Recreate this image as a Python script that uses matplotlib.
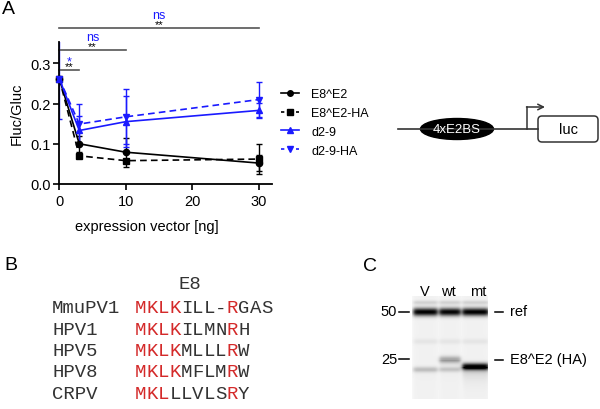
import numpy as np
import matplotlib.pyplot as plt
from matplotlib.patches import Ellipse, FancyBboxPatch
from matplotlib.lines import Line2D

plt.rcParams['font.family'] = ['Liberation Sans', 'DejaVu Sans']

W, H = 600, 410
BLUE = '#1a1aff'
RED = '#d42a2a'

# ---- panel A: Fluc/Gluc vs expression vector ----
doses = [0, 3, 10, 30]
names = ['E8^E2', 'E8^E2-HA', 'd2-9', 'd2-9-HA']
e8e2 = [0.262, 0.100, 0.079, 0.052]
e8e2_err = [0.0, 0.020, 0.036, 0.019]
e8e2_ha = [0.262, 0.070, 0.058, 0.062]
e8e2_ha_err = [0.0, 0.005, 0.003, 0.038]
d29 = [0.262, 0.133, 0.155, 0.183]
d29_err = [0.100, 0.035, 0.063, 0.019]
d29_ha = [0.262, 0.149, 0.167, 0.210]
d29_ha_err = [0.0, 0.050, 0.068, 0.044]

# significance bars: end dose, blue label (d2-9), black label (E8^E2)
sig_end = [3, 10, 30]
sig_y = [0.284, 0.334, 0.388]
sig_blue = ['*', 'ns', 'ns']
sig_black = ['**', '**', '**']

# ---- panel B: E8 alignment ----
strains = ['MmuPV1', 'HPV1', 'HPV5', 'HPV8', 'CRPV']
seqs = ['MKLKILL-RGAS', 'MKLKILMNRH', 'MKLKMLLLRW', 'MKLKMFLMRW', 'MKLLLVLSRY']
red_pos = [[0, 1, 2, 3, 8], [0, 1, 2, 3, 8], [0, 1, 2, 3, 8],
           [0, 1, 2, 3, 8], [0, 1, 2, 8]]

# ---- panel C: western blot ----
lanes = ['V', 'wt', 'mt']
mw_labels = ['50', '25']
ref_int = [0.95, 0.93, 0.95]
ha_int = [0.06, 0.30, 0.97]
ha_pos = [73, 63, 70]      # band row inside blot image
faint_int = [0.14, 0.16, 0.0]


def fx(x):
    return x / W


def fy(y):
    return 1 - y / H


fig = plt.figure(figsize=(6, 4.1), dpi=100)

# overlay in pixel coordinates for annotations / schematics
ov = fig.add_axes([0, 0, 1, 1])
ov.set_xlim(0, W)
ov.set_ylim(H, 0)
ov.axis('off')

ax = fig.add_axes([fx(59.3), fy(185), fx(271.7) - fx(59.3), fy(43) - fy(185)])
series = [(e8e2, e8e2_err, 'black', '-', 'o'),
          (e8e2_ha, e8e2_ha_err, 'black', '--', 's'),
          (d29, d29_err, BLUE, '-', '^'),
          (d29_ha, d29_ha_err, BLUE, '--', 'v')]
handles = []
for (vals, err, c, ls, m), name in zip(series, names):
    ax.errorbar(doses, vals, yerr=err, fmt='none', ecolor=c, elinewidth=1,
                capsize=2.5, capthick=1)
    ax.plot(doses, vals, color=c, ls=ls, marker=m, ms=4.5, lw=1.2,
            dashes=(4, 2.5) if ls == '--' else (None, None),
            clip_on=False, zorder=4)
    handles.append(Line2D([], [], color=c, ls=ls, marker=m, ms=4, lw=1.2,
                          dashes=(2, 2.5) if ls == '--' else (None, None)))

ax.set_xlim(0, 31.9)
ax.set_ylim(0, 0.353)
ax.set_xticks([0, 10, 20, 30])
ax.set_yticks([0.0, 0.1, 0.2, 0.3])
ax.yaxis.set_major_formatter(plt.FormatStrFormatter('%.1f'))
for s in ['top', 'right']:
    ax.spines[s].set_visible(False)
for s in ['left', 'bottom']:
    ax.spines[s].set_linewidth(1.3)
ax.tick_params(direction='out', length=4.5, width=1.2, labelsize=10.5)
ax.tick_params(axis='y', pad=1.5)
ax.tick_params(axis='x', pad=3)
ax.set_xlabel('expression vector [ng]', fontsize=10.5, va='center')
ax.xaxis.set_label_coords((147 - 59.3) / 212.4, -(227 - 185) / 142)
ax.set_ylabel('Fluc/Gluc', fontsize=10.5, va='center')
ax.yaxis.set_label_coords(-(59.3 - 17) / 212.4, 0.5)

for x1, y, tb, tk in zip(sig_end, sig_y, sig_blue, sig_black):
    ax.plot([0, x1], [y, y], color='#555555', lw=1.2, clip_on=False)
    ax.text(x1 / 2, y + 0.001, tk, ha='center', va='baseline', fontsize=8,
            color='black')
    off = 0.013 if tb == '*' else 0.024
    ax.text(x1 / 2, y + off, tb, ha='center', va='baseline', fontsize=9,
            color=BLUE)

fig.legend(handles, names, loc='upper left', bbox_to_anchor=(fx(281), fy(89)),
           frameon=False, fontsize=9, handlelength=1.4, handletextpad=1.0,
           labelspacing=0.55, borderpad=0, borderaxespad=0)

# promoter schematic
ov.plot([398, 538], [130, 130], color='#333333', lw=1.2)
ov.add_patch(Ellipse((457, 130), 73, 21, color='black'))
ov.text(457, 130, '4xE2BS', color='white', ha='center', va='center',
        fontsize=9.5)
ov.add_patch(FancyBboxPatch((538, 117), 60, 26,
                            boxstyle='round,pad=0,rounding_size=4',
                            fc='white', ec='#333333', lw=1.1))
ov.text(568, 130, 'luc', ha='center', va='center', fontsize=10.5)
ov.plot([527, 527], [130, 108], color='#333333', lw=1.1)
ov.annotate('', xy=(545, 108), xytext=(526.5, 108),
            arrowprops=dict(arrowstyle='->', color='#333333', lw=1.1,
                            shrinkA=0, shrinkB=0, mutation_scale=10))

# panel letters
ov.text(8, 9, 'A', fontsize=14, ha='center', va='center')
ov.text(11, 266, 'B', fontsize=14, ha='center', va='center')
ov.text(370, 267, 'C', fontsize=14, ha='center', va='center')

# panel B alignment
mono = ['Liberation Mono', 'DejaVu Sans Mono']
cw = 11.45
row_y = [309, 331, 352, 373, 395]
ov.text(190, 285, 'E8', family=mono, fontsize=13.7, ha='center',
        va='center', color='#333333')
for name, seq, reds, y in zip(strains, seqs, red_pos, row_y):
    ov.text(52, y, name, family=mono, fontsize=13.7, ha='left',
            va='center', color='#333333')
    for i, ch in enumerate(seq):
        ov.text(135 + i * cw, y, ch, family=mono, fontsize=13.7, ha='left',
                va='center', color=RED if i in reds else '#333333')

# panel C blot
bh, bw = 103, 76
lane_span = [(1, 25), (27, 48), (50, 76)]
yy = np.arange(bh)[:, None]
xx = np.arange(bw)[None, :]
img = np.full((bh, bw), 0.975)
for (a, b), r, h, hp, fa in zip(lane_span, ref_int, ha_int, ha_pos, faint_int):
    prof = 1 / (1 + np.exp(-(xx - a) * 0.9)) / (1 + np.exp((xx - b) * 0.9))
    img -= 0.03 * prof
    img -= r * np.exp(-0.5 * ((yy - 15.5) / 2.8) ** 2) * prof
    img -= 0.12 * np.exp(-0.5 * ((yy - 6) / 1.5) ** 2) * prof
    img -= 0.05 * np.exp(-0.5 * ((yy - 45) / 2.0) ** 2) * prof
    img -= h * np.exp(-0.5 * ((yy - hp) / 2.4) ** 2) * prof
    img -= fa * np.exp(-0.5 * ((yy - 73) / 1.8) ** 2) * prof
    img -= 0.3 * h * np.exp(-np.clip(yy - hp, 0, None) / 7) * (yy > hp) * prof
img = np.clip(img, 0, 1)
bx = fig.add_axes([fx(412), fy(400), fx(488) - fx(412), fy(297) - fy(400)])
bx.imshow(img, cmap='gray', vmin=0, vmax=1, aspect='auto',
          interpolation='bilinear')
bx.axis('off')

for lab, x in zip(lanes, [425, 448, 478]):
    ov.text(x, 292, lab, ha='center', va='center', fontsize=10.5)
for lab, y in zip(mw_labels, [312.5, 360]):
    ov.text(397, y, lab, ha='right', va='center', fontsize=10.5)
    ov.plot([399, 409], [y, y], color='black', lw=1.1)
for lab, y in zip(['ref', 'E8^E2 (HA)'], [312.5, 360.5]):
    ov.plot([495, 503], [y, y], color='black', lw=1.1)
    ov.text(510, y, lab, ha='left', va='center', fontsize=10.5)

fig.savefig('out.png', dpi=100)
